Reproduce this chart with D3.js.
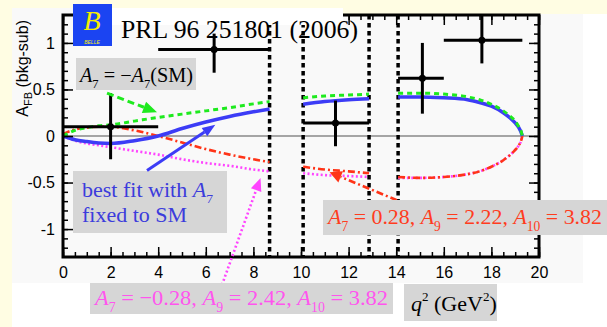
<!DOCTYPE html>
<meta charset="utf-8">
<style>
body { margin: 0; background: #fffde3; }
.axis text { font: 16px "Liberation Sans", Arial, sans-serif; fill: #000; }
.axis line { stroke: #000; stroke-width: 1.5; }
.axis path { display: none; }
.serif { font-family: "Liberation Serif", "Times New Roman", serif; }
</style>
<body>
<div id="chart"></div>
<script src="https://d3js.org/d3.v7.min.js"></script>
<script>
// q2 grid for the three allowed windows (veto regions between them)
var q2Grid = [
  [0, 0.5, 1, 1.5, 2, 3, 4, 5, 6, 7, 8, 8.68],
  [10.09, 11, 12, 12.86],
  [14.08, 15, 16, 17, 17.5, 18, 18.5, 18.8, 19.0, 19.15, 19.25, 19.3]
];
// A7 = -A7(SM)
var afbFlipA7 = [
  [0, 0.06, 0.09, 0.11, 0.12, 0.16, 0.2, 0.235, 0.27, 0.305, 0.345, 0.37],
  [0.41, 0.43, 0.44, 0.45],
  [0.46, 0.46, 0.45, 0.42, 0.39, 0.34, 0.27, 0.21, 0.16, 0.1, 0.05, 0]
];
// best fit with A7 fixed to SM
var afbBestFit = [
  [0, -0.04, -0.06, -0.075, -0.08, -0.05, 0.0, 0.08, 0.15, 0.21, 0.26, 0.29],
  [0.34, 0.37, 0.39, 0.40],
  [0.42, 0.42, 0.41, 0.39, 0.36, 0.32, 0.25, 0.19, 0.14, 0.09, 0.04, 0]
];
// A7 = 0.28, A9 = 2.22, A10 = 3.82
var afbPosA7 = [
  [0.02, 0.07, 0.09, 0.1, 0.1, 0.06, 0.0, -0.07, -0.14, -0.2, -0.25, -0.28],
  [-0.33, -0.36, -0.38, -0.40],
  [-0.44, -0.45, -0.44, -0.41, -0.38, -0.33, -0.26, -0.2, -0.15, -0.1, -0.05, 0]
];
// A7 = -0.28, A9 = 2.42, A10 = 3.82
var afbNegA7 = [
  [0, -0.05, -0.08, -0.1, -0.12, -0.16, -0.2, -0.25, -0.29, -0.32, -0.36, -0.38],
  [-0.40, -0.42, -0.43, -0.44],
  [-0.45, -0.45, -0.44, -0.41, -0.38, -0.33, -0.26, -0.2, -0.15, -0.1, -0.05, 0]
];

// measured bins
var binLo = [0, 4.0, 10.09, 14.08, 16.0];
var binHi = [4.0, 8.68, 12.86, 16.0, 19.3];
var binCenter = [2.0, 6.35, 11.45, 15.1, 17.6];
var afbValue = [0.10, 0.93, 0.14, 0.62, 1.03];
var errUp = [0.36, 0.17, 0.24, 0.38, 0.3];
var errDown = [0.35, 0.25, 0.25, 0.38, 0.25];

var vetoLines = [8.68, 10.09, 12.86, 14.08];
var xMajor = [0, 2, 4, 6, 8, 10, 12, 14, 16, 18, 20];
var yMajor = [-1, -0.5, 0, 0.5, 1];

var W = 607, H = 327;
var svg = d3.select("#chart").append("svg").attr("width", W).attr("height", H);

var x = d3.scaleLinear().domain([0, 20]).range([63, 539]);
var y = d3.scaleLinear().domain([-1.3, 1.3]).range([257, 15]);

// backgrounds
svg.append("rect").attr("x", 12).attr("y", 8).attr("width", W - 12).attr("height", H - 8).attr("fill", "#fff");
svg.append("rect").attr("x", 12).attr("y", 8).attr("width", 571).attr("height", 275).attr("fill", "#f9f9f9");
svg.append("rect").attr("x", 343).attr("y", 0).attr("width", W - 343).attr("height", 14).attr("fill", "#fffde3");

// zero line
svg.append("line").attr("x1", x(0)).attr("x2", x(20)).attr("y1", y(0)).attr("y2", y(0))
  .attr("stroke", "#888").attr("stroke-width", 1.3);

// veto lines
svg.selectAll(".veto").data(vetoLines).enter().append("line")
  .attr("x1", function(d) { return x(d); }).attr("x2", function(d) { return x(d); })
  .attr("y1", y(1.3)).attr("y2", y(-1.3))
  .attr("stroke", "#000").attr("stroke-width", 3.5).attr("stroke-dasharray", "4.5,3.5");

var line = d3.line().x(function(d) { return x(d[0]); }).y(function(d) { return y(d[1]); })
  .curve(d3.curveMonotoneX);

function drawSeries(vals, color, width, dash) {
  q2Grid.forEach(function(qs, s) {
    svg.append("path")
      .datum(qs.map(function(q, i) { return [q, vals[s][i]]; }))
      .attr("d", line).attr("fill", "none")
      .attr("stroke", color).attr("stroke-width", width)
      .attr("stroke-dasharray", dash);
  });
}
drawSeries(afbNegA7, "#ff44ff", 2.6, "2,2.4");
drawSeries(afbPosA7, "#ff3418", 2.6, "7,3,2,3");
drawSeries(afbBestFit, "#3c3cf6", 3.5, null);
drawSeries(afbFlipA7, "#1eea1e", 3, "5,4");

// data points
var pts = svg.append("g");
binCenter.forEach(function(c, i) {
  pts.append("line").attr("x1", x(binLo[i])).attr("x2", x(binHi[i]))
    .attr("y1", y(afbValue[i])).attr("y2", y(afbValue[i]))
    .attr("stroke", "#000").attr("stroke-width", 3);
  pts.append("line").attr("x1", x(c)).attr("x2", x(c))
    .attr("y1", y(Math.min(1.3, afbValue[i] + errUp[i]))).attr("y2", y(afbValue[i] - errDown[i]))
    .attr("stroke", "#000").attr("stroke-width", 3);
  pts.append("circle").attr("cx", x(c)).attr("cy", y(afbValue[i])).attr("r", 3.5).attr("fill", "#000");
});

// axes with inward ticks
function addAxis(axis, tr) {
  svg.append("g").attr("class", "axis").attr("transform", tr).call(axis);
}
addAxis(d3.axisBottom(x).tickValues(xMajor).tickSize(-10).tickPadding(10).tickFormat(function(d) { return String(d); }), "translate(0," + y(-1.3) + ")");
addAxis(d3.axisBottom(x).tickValues(d3.range(0, 20.01, 0.5)).tickSize(-5).tickFormat(""), "translate(0," + y(-1.3) + ")");
addAxis(d3.axisTop(x).tickValues(xMajor).tickSize(-10).tickFormat(""), "translate(0," + y(1.3) + ")");
addAxis(d3.axisTop(x).tickValues(d3.range(0, 20.01, 0.5)).tickSize(-5).tickFormat(""), "translate(0," + y(1.3) + ")");
addAxis(d3.axisLeft(y).tickValues(yMajor).tickSize(-10).tickPadding(8).tickFormat(function(d) { return String(d); }), "translate(" + x(0) + ",0)");
addAxis(d3.axisLeft(y).tickValues(d3.range(-12, 13).map(function(v) { return v / 10; })).tickSize(-5).tickFormat(""), "translate(" + x(0) + ",0)");
addAxis(d3.axisRight(y).tickValues(yMajor).tickSize(-10).tickFormat(""), "translate(" + x(20) + ",0)");
addAxis(d3.axisRight(y).tickValues(d3.range(-12, 13).map(function(v) { return v / 10; })).tickSize(-5).tickFormat(""), "translate(" + x(20) + ",0)");

svg.append("rect").attr("x", x(0)).attr("y", y(1.3)).attr("width", x(20) - x(0)).attr("height", y(-1.3) - y(1.3))
  .attr("fill", "none").attr("stroke", "#000").attr("stroke-width", 3);

// y title
var yt = svg.append("text").attr("transform", "translate(28,20) rotate(-90)")
  .attr("text-anchor", "end").style("font", "16px 'Liberation Sans', Arial, sans-serif");
yt.append("tspan").text("A");
yt.append("tspan").attr("dy", 4).style("font-size", "11px").text("FB");
yt.append("tspan").attr("dy", -4).text(" (bkg-sub)");

// reference box + logo
svg.append("rect").attr("x", 112).attr("y", 8).attr("width", 231).attr("height", 17).attr("fill", "#fff");
svg.append("text").attr("class", "serif").attr("x", 121).attr("y", 38).attr("font-size", 26)
  .attr("textLength", 237).attr("lengthAdjust", "spacingAndGlyphs").text("PRL 96 251801 (2006)");
svg.append("rect").attr("x", 73).attr("y", 4).attr("width", 39).attr("height", 42).attr("fill", "#1b44f2");
svg.append("text").attr("class", "serif").attr("x", 92).attr("y", 30).attr("text-anchor", "middle")
  .attr("font-size", 28).attr("font-style", "italic").attr("fill", "#f6ee00").text("B");
svg.append("text").attr("x", 92).attr("y", 44).attr("text-anchor", "middle")
  .style("font", "italic 5px 'Liberation Sans', sans-serif").attr("fill", "#f6ee00").text("BELLE");

// annotations
function box(x0, y0, w, h) {
  svg.append("rect").attr("x", x0).attr("y", y0).attr("width", w).attr("height", h).attr("fill", "#d6d6d6");
}
function mathText(x0, y0, size, color, parts, len) {
  var t = svg.append("text").attr("class", "serif").attr("x", x0).attr("y", y0)
    .attr("font-size", size).attr("fill", color);
  if (len) t.attr("textLength", len).attr("lengthAdjust", "spacingAndGlyphs");
  var shift = 0;
  parts.forEach(function(p) {
    var s = t.append("tspan").text(p[0]);
    var want = p[2] ? size * 0.3 : 0;
    if (want !== shift) { s.attr("dy", want - shift); shift = want; }
    if (p[1]) s.attr("font-style", "italic");
    if (p[2]) s.attr("font-size", size * 0.62);
  });
  return t;
}
function arrow(q0, a0, q1, a1, color, dash, width, hl, hw) {
  var x0 = x(q0), y0 = y(a0), x1 = x(q1), y1 = y(a1);
  var dx = x1 - x0, dy = y1 - y0, L = Math.sqrt(dx * dx + dy * dy);
  var ux = dx / L, uy = dy / L;
  svg.append("line").attr("x1", x0).attr("y1", y0).attr("x2", x1 - ux * hl).attr("y2", y1 - uy * hl)
    .attr("stroke", color).attr("stroke-width", width).attr("stroke-dasharray", dash);
  var bx = x1 - ux * hl, by = y1 - uy * hl;
  svg.append("polygon").attr("fill", color).attr("points", [
    [x1, y1], [bx - uy * hw / 2, by + ux * hw / 2], [bx + uy * hw / 2, by - ux * hw / 2]
  ].map(function(p) { return p.join(","); }).join(" "));
}

box(76, 58, 120, 32);
mathText(80, 82, 20, "#000", [["A", true], ["7", false, true], [" = \u2212", false], ["A", true], ["7", false, true], ["(SM)", false]], 113);
arrow(1.85, 0.46, 3.95, 0.255, "#1eea1e", "7,4", 3, 14, 12);

box(73, 171, 154, 62);
mathText(82, 197, 21, "#3c3cdc", [["best fit with ", false], ["A", true], ["7", false, true]], 131);
mathText(82, 222, 21, "#3c3cdc", [["fixed to SM", false]], 105);
arrow(3.53, -0.37, 6.4, 0.12, "#3c3cf6", null, 3, 13, 10);

arrow(14.03, -0.69, 11.2, -0.39, "#ff3418", "7,3,2,3", 2.6, 12, 12);
box(323, 200, 284, 35);
mathText(328, 224, 22, "#ff3c1e", [["A", true], ["7", false, true], [" = 0.28, ", false], ["A", true], ["9", false, true], [" = 2.22, ", false], ["A", true], ["10", false, true], [" = 3.82", false]], 274);

arrow(6.68, -1.6, 8.3, -0.45, "#ff44ff", "2,2.4", 2.6, 13, 11);
box(90, 283, 303, 31);
mathText(95, 305, 22, "#ff55ee", [["A", true], ["7", false, true], [" = \u22120.28, ", false], ["A", true], ["9", false, true], [" = 2.42, ", false], ["A", true], ["10", false, true], [" = 3.82", false]], 293);

box(404, 284, 93, 37);
var qt = svg.append("text").attr("class", "serif").attr("x", 411).attr("y", 311).attr("font-size", 22).attr("fill", "#000");
qt.append("tspan").attr("font-style", "italic").text("q");
qt.append("tspan").attr("dy", -10).attr("font-size", 13).text("2");
qt.append("tspan").attr("dy", 10).text("  (GeV");
qt.append("tspan").attr("dy", -10).attr("font-size", 13).text("2");
qt.append("tspan").attr("dy", 10).text(")");
</script>
</body>
